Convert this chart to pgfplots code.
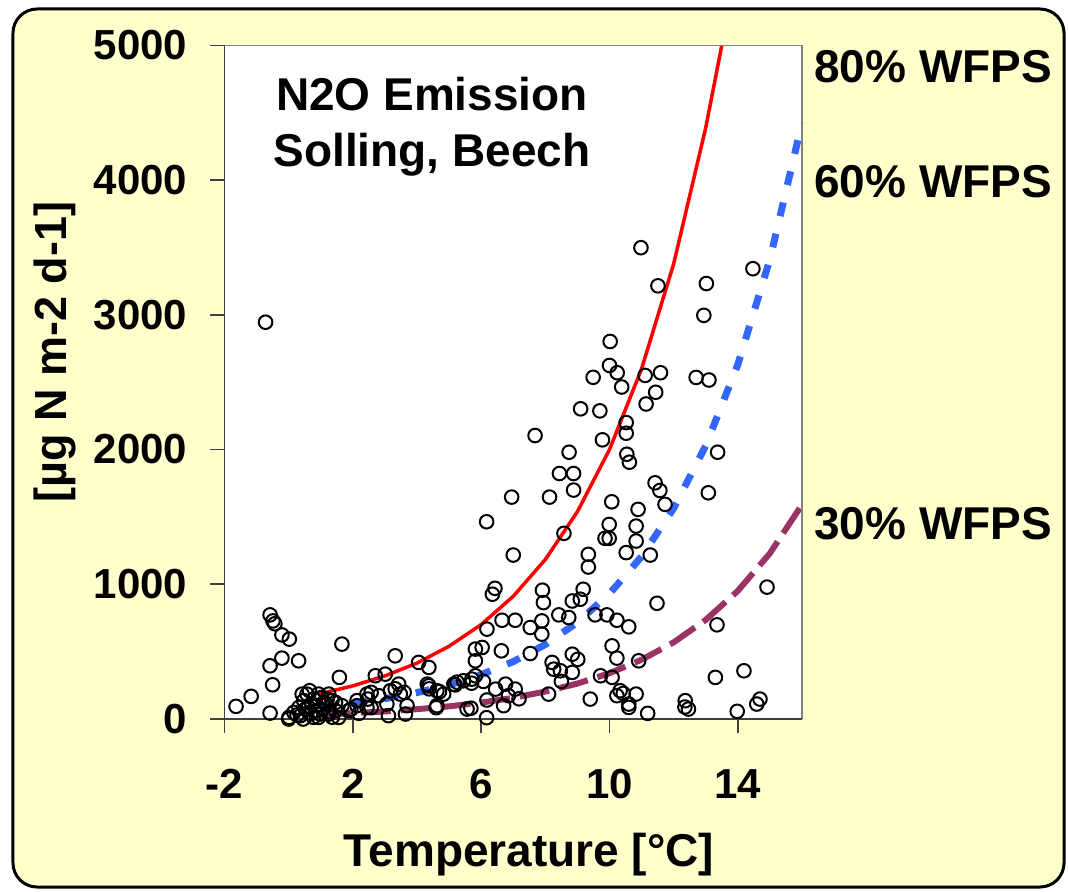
\documentclass[border=0pt]{standalone}
\usepackage{fontspec}
\setmainfont{Liberation Sans}
\usepackage{pgfplots}
\pgfplotsset{compat=1.18}
\definecolor{bgyellow}{HTML}{FFFFCC}
\definecolor{curvered}{HTML}{FF0000}
\definecolor{curveblue}{HTML}{3366FF}
\definecolor{curvepurple}{HTML}{993366}
\begin{document}
\begin{tikzpicture}
\draw[line width=1.5pt, fill=bgyellow, rounded corners=12pt] (-105.75pt,-84pt) rectangle (419.75pt,355pt);
\begin{axis}[
  at={(0pt,0pt)}, anchor=south west, scale only axis,
  width=288.75pt, height=336.85pt,
  xmin=-2, xmax=16, ymin=0, ymax=5000,
  clip=false,
  axis background/.style={fill=white},
  axis line style={draw=none},
  xtick={-2,2,6,10,14}, xticklabels={-2,2,6,10,14},
  ytick={0,1000,2000,3000,4000,5000}, yticklabels={0,1000,2000,3000,4000,5000},
  tick align=outside, tick pos=left, major tick length=7pt,
  tick style={black!75, line width=0.8pt},
  /pgf/number format/assume math mode=true,
  ticklabel style={font=\fontsize{21}{21}\selectfont\bfseries},
  yticklabel style={anchor=east, inner sep=0pt, xshift=-11.5pt},
  xticklabel style={anchor=north, inner sep=0pt, yshift=-18pt},
]
\addplot[curvered, line width=1.75pt] coordinates {(0.9,184)(1,189)(2,246)(3,320)(4,415)(5,540)(6,701)(7,911)(8,1184)(9,1539)(10,2000)(11,2599)(12,3378)(13,4389)(13.5,5000)};
\addplot[curveblue, line width=3.5pt, dash pattern=on 7pt off 9pt] coordinates {(1,90)(2,116)(3,151)(4,196)(5,253)(6,329)(7,426)(8,553)(9,717)(10,930)(11,1206)(12,1564)(13,2029)(14,2631)(15,3412)(16,4426)};
\addplot[curvepurple, line width=3pt, dash pattern=on 15pt off 5pt] coordinates {(1,34)(2,44)(3,56)(4,73)(5,94)(6,122)(7,157)(8,204)(9,263)(10,340)(11,440)(12,569)(13,736)(14,951)(15,1230)(16,1591)};
\addplot[only marks, mark=o, mark size=3.4pt, mark options={line width=1pt, draw=black}] table {
x y
-1.64 94
-1.17 168
-0.58 773
-0.49 728
-0.43 707
-0.21 624
0.02 593
-0.21 452
0.31 432
-0.58 395
-0.50 254
-0.58 44
1.66 556
1.58 309
-0.72 2945
0.01 12
0.16 49
0.32 86
0.47 136
0.57 185
0.65 210
0.73 111
0.83 62
0.93 12
1.03 160
1.15 111
1.25 185
1.35 136
1.46 62
1.56 12
0.37 25
0.52 74
0.68 37
0.78 148
0.88 99
0.98 37
1.10 123
1.25 37
1.46 123
1.66 99
1.87 62
0.42 185
0.62 86
0.93 185
1.20 148
0.00 0
0.26 30
0.45 0
0.77 13
1.36 13
1.26 55
3.32 469
4.05 420
4.37 383
2.70 321
3.01 333
3.43 259
4.37 247
5.25 274
5.45 284
5.71 296
5.82 519
5.82 432
4.83 185
4.62 99
5.56 74
3.11 25
3.64 37
2.13 99
2.44 185
2.81 173
3.17 210
3.48 185
3.06 111
2.44 86
2.13 136
3.69 99
4.32 259
4.62 210
5.15 259
5.82 321
3.32 224
3.60 198
2.57 198
2.47 148
2.57 84
2.19 42
1.94 72
4.38 224
4.70 203
4.60 84
5.19 253
5.70 266
6.35 926
7.94 864
8.84 876
9.09 889
9.55 773
6.65 733
7.06 733
7.53 679
7.89 728
8.42 773
8.73 753
7.89 630
6.18 667
6.03 531
6.63 506
7.53 486
8.21 420
8.84 481
8.26 370
8.47 358
8.84 346
8.50 279
6.07 279
6.45 222
6.76 259
7.06 222
6.85 173
6.70 99
6.18 141
8.10 185
9.40 148
6.17 10
5.68 80
7.18 150
9.01 443
8.44 1822
8.88 1822
8.88 1699
6.95 1647
8.13 1647
6.17 1464
8.58 1378
7.00 1217
9.34 1222
9.34 1128
6.43 970
7.91 956
9.18 963
11.42 1753
11.57 1696
11.73 1593
13.08 1679
10.07 1612
10.89 1556
9.99 1444
10.83 1432
9.86 1341
9.99 1341
10.83 1321
10.52 1235
11.27 1217
11.48 859
9.92 773
10.23 733
10.60 684
13.35 699
10.08 543
10.23 452
10.91 432
9.72 321
10.08 309
13.30 309
10.23 173
10.43 190
10.83 185
10.60 111
10.60 86
11.19 42
12.36 136
12.35 89
12.46 74
14.19 358
14.69 148
14.59 111
13.98 57
10.33 210
14.91 979
10.98 3498
11.51 3215
13.02 3232
14.47 3342
12.94 2996
10.02 2802
10.00 2624
10.24 2570
10.38 2464
9.49 2536
11.11 2550
11.59 2570
11.44 2425
11.14 2338
9.10 2302
9.70 2287
12.70 2535
13.10 2516
7.68 2104
9.78 2072
10.52 2200
10.52 2121
10.54 1965
10.62 1906
8.74 1980
13.37 1980
};
\draw[gray, line width=0.6pt] (rel axis cs:0,1) -- (rel axis cs:1,1) -- (rel axis cs:1,0);
\draw[black!75, line width=0.9pt] (rel axis cs:0,1) -- (rel axis cs:0,0) -- (rel axis cs:1,0);
\end{axis}
\node[anchor=base, font=\fontsize{23}{23}\selectfont\bfseries] at (103.75pt,304.1pt) {N2O Emission};
\node[anchor=base, font=\fontsize{23}{23}\selectfont\bfseries] at (103.75pt,276.5pt) {Solling, Beech};
\node[anchor=base west, inner sep=0pt, font=\fontsize{23}{23}\selectfont\bfseries] at (294.75pt,318.5pt) {80\% WFPS};
\node[anchor=base west, inner sep=0pt, font=\fontsize{23}{23}\selectfont\bfseries] at (294.75pt,261pt) {60\% WFPS};
\node[anchor=base west, inner sep=0pt, font=\fontsize{23}{23}\selectfont\bfseries] at (294.75pt,90pt) {30\% WFPS};
\node[anchor=base, inner sep=0pt, font=\fontsize{23}{23}\selectfont\bfseries] at (152.25pt,-73.75pt) {Temperature [°C]};
\node[rotate=90, anchor=center, inner sep=0pt, font=\fontsize{22.5}{22.5}\selectfont\bfseries] at (-85pt,183.5pt) {[µg N m-2 d-1]};
\pgfresetboundingbox
\path[use as bounding box] (-112.25pt,-86pt) rectangle (421.75pt,359.5pt);
\end{tikzpicture}
\end{document}
